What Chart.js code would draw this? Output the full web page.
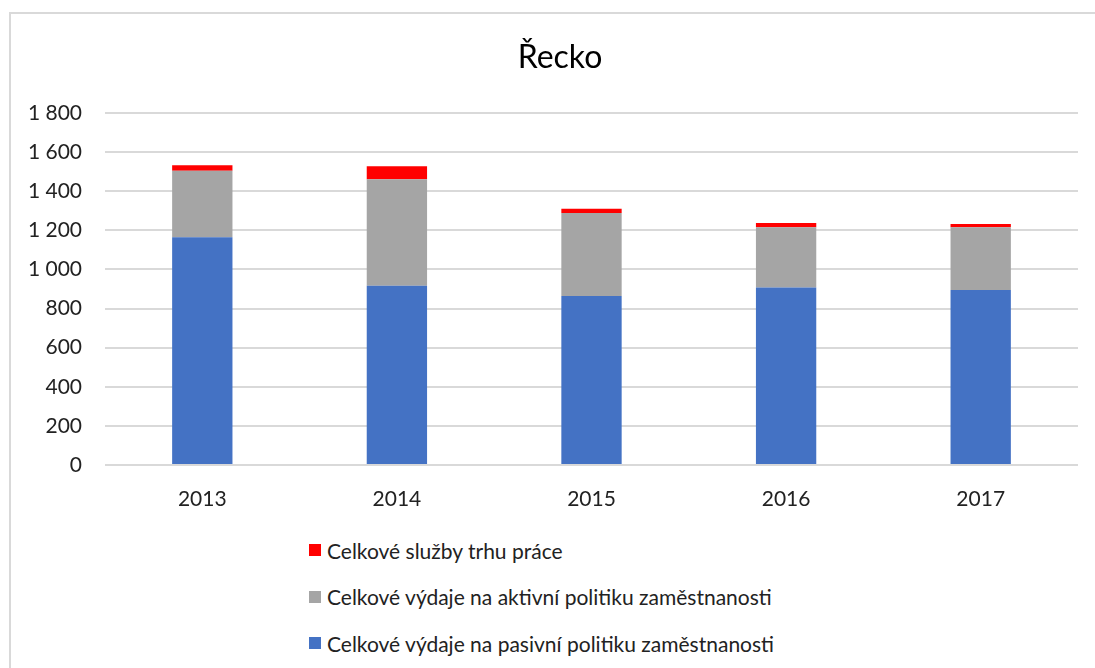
<!DOCTYPE html>
<html>
<head>
<meta charset="utf-8">
<script src="https://cdn.jsdelivr.net/npm/chart.js@4/dist/chart.umd.min.js"></script>
<style>
    html, body { margin: 0; padding: 0; background: #fff; }
    body { width: 1095px; height: 668px; position: relative; overflow: hidden; font-family: Lato, "Liberation Sans", sans-serif; }
    #frame { position: absolute; left: 9px; top: 12px; width: 1200px; height: 800px; border-left: 2px solid #d9d9d9; border-top: 2px solid #d9d9d9; }
    #title { position: absolute; left: 0; width: 1120px; top: 36px; text-align: center; font-size: 32px; color: #000; }
    #chartBox { position: absolute; left: 0; top: 0; width: 1095px; height: 520px; }
    #legend { position: absolute; left: 309px; top: 536px; font-size: 21px; color: #222; }
    .legend-item { display: flex; align-items: center; height: 28px; margin-bottom: 18.5px; }
    .legend-swatch { width: 12px; height: 12px; margin-right: 6px; }
</style>
</head>
<body>
<div id="frame"></div>
<div id="chartBox"><canvas id="reckoChart" width="1095" height="520"></canvas></div>
<div id="title">Řecko</div>
<div id="legend"></div>
<script>
// Data
const years = ['2013', '2014', '2015', '2016', '2017'];
const passiveSpending = [1165, 917, 864, 908, 895];
const activeSpending = [340, 544, 425, 308, 321];
const labourServices = [28, 67, 21, 22, 16];
const yTicks = [0, 200, 400, 600, 800, 1000, 1200, 1400, 1600, 1800];

const seriesNames = [
    'Celkové výdaje na pasivní politiku zaměstnanosti',
    'Celkové výdaje na aktivní politiku zaměstnanosti',
    'Celkové služby trhu práce'
];
const seriesColors = ['#4472C4', '#A5A5A5', '#FF0000'];

// thousands separated by a space, like the original
function formatNumber(v) {
    return v.toString().replace(/\B(?=(\d{3})+(?!\d))/g, ' ');
}

const fontFamily = 'Lato, "Liberation Sans", sans-serif';

const ctx = document.getElementById('reckoChart');
const chart = new Chart(ctx, {
    type: 'bar',
    data: {
        labels: years,
        datasets: [passiveSpending, activeSpending, labourServices].map((values, i) => ({
            label: seriesNames[i],
            data: values,
            backgroundColor: seriesColors[i],
            borderWidth: 0,
            categoryPercentage: 1,
            barPercentage: 0.31
        }))
    },
    options: {
        responsive: false,
        animation: false,
        layout: { padding: { top: 113, right: 17, left: 0, bottom: 0 } },
        plugins: {
            legend: { display: false },
            title: { display: false },
            tooltip: { enabled: false }
        },
        scales: {
            x: {
                stacked: true,
                grid: { display: false },
                border: { display: false },
                ticks: { color: '#222', font: { family: fontFamily, size: 21 }, padding: 14 },
                afterFit: function(scale) { scale.height = 55; }
            },
            y: {
                stacked: true,
                min: 0,
                max: 1800,
                afterBuildTicks: function(scale) {
                    scale.ticks = yTicks.map(v => ({ value: v }));
                },
                grid: { color: '#d9d9d9', lineWidth: 2, drawTicks: false },
                border: { display: false },
                ticks: {
                    color: '#222',
                    font: { family: fontFamily, size: 21 },
                    padding: 23,
                    callback: function(value) { return formatNumber(value); }
                },
                afterFit: function(scale) { scale.width = 105; }
            }
        }
    }
});

// Legend, listed top series first
const legend = document.getElementById('legend');
for (let i = seriesNames.length - 1; i >= 0; i--) {
    const item = document.createElement('div');
    item.className = 'legend-item';
    item.innerHTML = `<span class="legend-swatch" style="background:${seriesColors[i]}"></span><span>${seriesNames[i]}</span>`;
    legend.appendChild(item);
}
</script>
</body>
</html>
